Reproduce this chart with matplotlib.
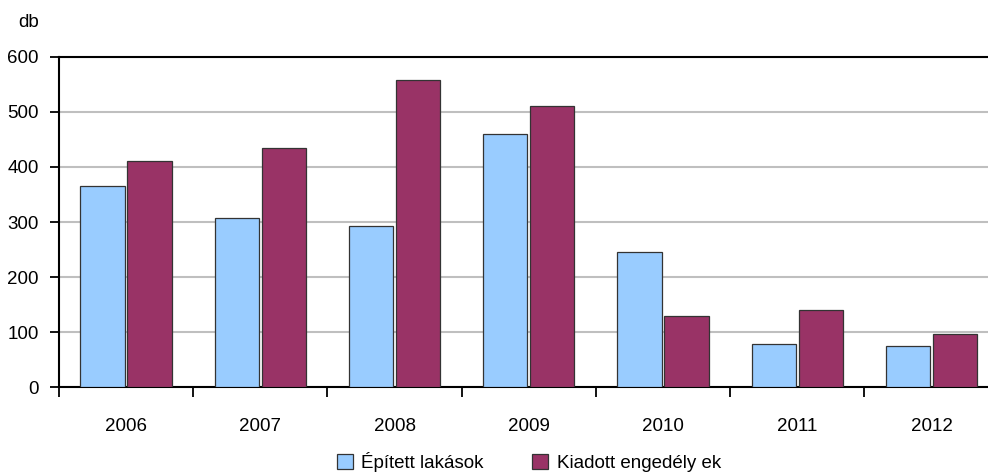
import numpy as np
import matplotlib
matplotlib.use('Agg')
import matplotlib.pyplot as plt

plt.rcParams['font.family'] = ['Liberation Sans', 'DejaVu Sans']

years = ['2006', '2007', '2008', '2009', '2010', '2011', '2012']
epitett = [365, 307, 293, 459, 245, 78, 75]
kiadott = [411, 434, 557, 510, 129, 140, 96]
y_ticks = [0, 100, 200, 300, 400, 500, 600]

fig = plt.figure(figsize=(9.88, 4.73), dpi=100)
ax = fig.add_axes([0.0597, 0.181, 0.951, 0.699])

x = np.arange(len(years))
w = 0.33
ax.bar(x - 0.175, epitett, w, color='#99CCFF', edgecolor='#333333', linewidth=0.9,
       label='Épített lakások', zorder=3)
ax.bar(x + 0.175, kiadott, w, color='#993366', edgecolor='#333333', linewidth=0.9,
       label='Kiadott engedély ek', zorder=3)

ax.set_xlim(-0.5, len(years) - 0.5)
ax.set_ylim(0, 600)
ax.set_yticks(y_ticks)
ax.yaxis.grid(True, color='#BFBFBF', linewidth=1.5, zorder=0)
ax.set_xticks(x)
ax.set_xticklabels(years)
ax.tick_params(axis='x', length=0, pad=22, labelsize=13.5)
ax.set_xticks(np.arange(len(years) + 1) - 0.5, minor=True)
ax.tick_params(axis='x', which='minor', length=7, width=1.3, direction='out')
ax.tick_params(axis='y', length=6.5, width=1.3, labelsize=13.5, pad=8)

for s in ['left', 'bottom', 'top']:
    ax.spines[s].set_linewidth(1.5)
    ax.spines[s].set_color('black')
ax.spines['right'].set_visible(False)

fig.text(0.018, 0.953, 'db', fontsize=13.5, ha='left', va='center')

ax.legend(loc='upper center', bbox_to_anchor=(0.5, -0.155), ncol=2, frameon=False,
          fontsize=13.5, handlelength=0.85, handleheight=0.85, columnspacing=2.6,
          handletextpad=0.45, borderpad=0.2)

plt.savefig('out.png', dpi=100)
